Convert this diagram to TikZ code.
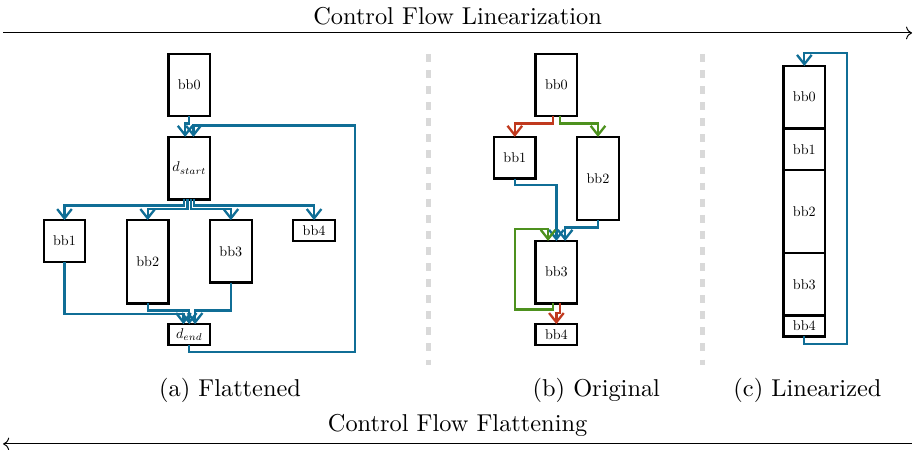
\documentclass[tikz,border=0pt]{standalone}
\usepackage{amsmath}
\usepackage{graphicx}
\usepackage{tikz}
\usepackage{xcolor}
\usetikzlibrary{arrows.meta,calc}
\definecolor{cfblue}{RGB}{16,110,150}
\definecolor{cfred}{RGB}{192,57,30}
\definecolor{cfgreen}{RGB}{77,145,30}
\newcommand{\blk}[1]{\scalebox{0.58}{#1}}
\tikzset{
	bb/.style={draw, line width=0.95pt, fill=white, inner sep=0pt, outer sep=0pt, minimum width=0.6cm, anchor=north},
	flow/.style={line width=0.95pt, -{Straight Barb[length=3.8pt,width=6pt]}},
	divider/.style={line width=1.9pt, black!15, dash pattern=on 3.2pt off 3.4pt}
}

\begin{document}
\begin{tikzpicture}[x=0.3cm, y=0.3cm]
			\useasboundingbox (0,0) rectangle (43.894,21.635);
			\node[anchor=base] (lin) at (22.0,20.45) {Control Flow Linearization};
			\coordinate (linl) at (0.15,20.05);
			\coordinate (linr) at (43.85,20.05);
			\draw[->] (linl) -- (linr);

			\node[bb, minimum height=0.9cm] (fbb0) at (9.1,19.05) {\blk{bb0}};
			\node[bb, minimum height=0.9cm] (fds) at (9.1,15.05) {\blk{$d_{start}$}};
			\node[bb, minimum height=0.6cm] (fbb1) at (3.1,11.05) {\blk{bb1}};
			\node[bb, minimum height=1.2cm] (fbb2) at (7.1,11.05) {\blk{bb2}};
			\node[bb, minimum height=0.9cm] (fbb3) at (11.1,11.05) {\blk{bb3}};
			\node[bb, minimum height=0.3cm] (fbb4) at (15.1,11.05) {\blk{bb4}};
			\node[bb, minimum height=0.3cm] (fde) at (9.1,6.05) {\blk{$d_{end}$}};
			\coordinate (floop) at (17.07,15.6);
			\draw[flow, cfblue] (fbb0.south) -- ++(0,-0.35) -| ($(fds.north)+(-0.2,0)$);
			\draw[flow, cfblue] (fde.south) -- ++(0,-0.35) -| (floop) -| ($(fds.north)+(0.2,0)$);
			\draw[flow, cfblue] ($(fds.south)+(-0.24,0)$) -- ++(0,-0.3) -| (fbb1.north);
			\draw[flow, cfblue] ($(fds.south)+(-0.08,0)$) -- ++(0,-0.46) -| (fbb2.north);
			\draw[flow, cfblue] ($(fds.south)+(0.08,0)$) -- ++(0,-0.46) -| (fbb3.north);
			\draw[flow, cfblue] ($(fds.south)+(0.24,0)$) -- ++(0,-0.3) -| (fbb4.north);
			\draw[flow, cfblue] (fbb1.south) |- ($(fde.north)+(-0.28,0.5)$) -- ($(fde.north)+(-0.28,0)$);
			\draw[flow, cfblue] (fbb2.south) |- ($(fde.north)+(0,0.66)$) -- (fde.north);
			\draw[flow, cfblue] (fbb3.south) |- ($(fde.north)+(0.28,0.66)$) -- ($(fde.north)+(0.28,0)$);

			\coordinate (diva) at (20.59,19.04);
			\coordinate (divb) at (20.59,4.09);
			\draw[divider] (diva) -- (divb);

			\node[bb, minimum height=0.9cm] (obb0) at (26.75,19.05) {\blk{bb0}};
			\node[bb, minimum height=0.6cm] (obb1) at (24.75,15.05) {\blk{bb1}};
			\node[bb, minimum height=1.2cm] (obb2) at (28.75,15.05) {\blk{bb2}};
			\node[bb, minimum height=0.9cm] (obb3) at (26.75,10.05) {\blk{bb3}};
			\node[bb, minimum height=0.3cm] (obb4) at (26.75,6.05) {\blk{bb4}};
			\draw[flow, cfred] ($(obb0.south)+(-0.18,0)$) -- ++(0,-0.35) -| (obb1.north);
			\draw[flow, cfgreen] ($(obb0.south)+(0.18,0)$) -- ++(0,-0.35) -| (obb2.north);
			\draw[flow, cfblue] (obb1.south) -- ++(0,-0.32) -| (obb3.north);
			\draw[flow, cfblue] (obb2.south) -- ++(0,-0.35) -| ($(obb3.north)+(0.42,0)$);
			\draw[flow, cfgreen] ($(obb3.south)+(-0.18,0)$) -- ++(0,-0.3) -| ($(obb3.north)+(-2,0.58)$) -| ($(obb3.north)+(-0.4,0)$);
			\draw[flow, cfred] ($(obb3.south)+(0.18,0)$) -- ++(0,-0.45) -| (obb4.north);

			\coordinate (divc) at (33.76,19.04);
			\coordinate (divd) at (33.76,4.09);
			\draw[divider] (divc) -- (divd);

			\node[bb, minimum height=0.9cm] (lbb0) at (38.67,18.46) {\blk{bb0}};
			\node[bb, minimum height=0.6cm] (lbb1) at (lbb0.south) {\blk{bb1}};
			\node[bb, minimum height=1.2cm] (lbb2) at (lbb1.south) {\blk{bb2}};
			\node[bb, minimum height=0.9cm] (lbb3) at (lbb2.south) {\blk{bb3}};
			\node[bb, minimum height=0.3cm] (lbb4) at (lbb3.south) {\blk{bb4}};
			\coordinate (lloop) at (40.71,19.07);
			\draw[flow, cfblue] (lbb4.south) -- ++(0,-0.35) -| (lloop) -| (lbb0.north);

			\node[anchor=base] (capa) at (11.06,2.55) {(a) Flattened};
			\node[anchor=base] (capb) at (28.67,2.55) {(b) Original};
			\node[anchor=base] (capc) at (38.82,2.55) {(c) Linearized};
			\node[anchor=base] (flat) at (22.0,0.87) {Control Flow Flattening};
			\coordinate (flatl) at (0.15,0.29);
			\coordinate (flatr) at (43.85,0.29);
			\draw[<-] (flatl) -- (flatr);
		\end{tikzpicture}
\end{document}
